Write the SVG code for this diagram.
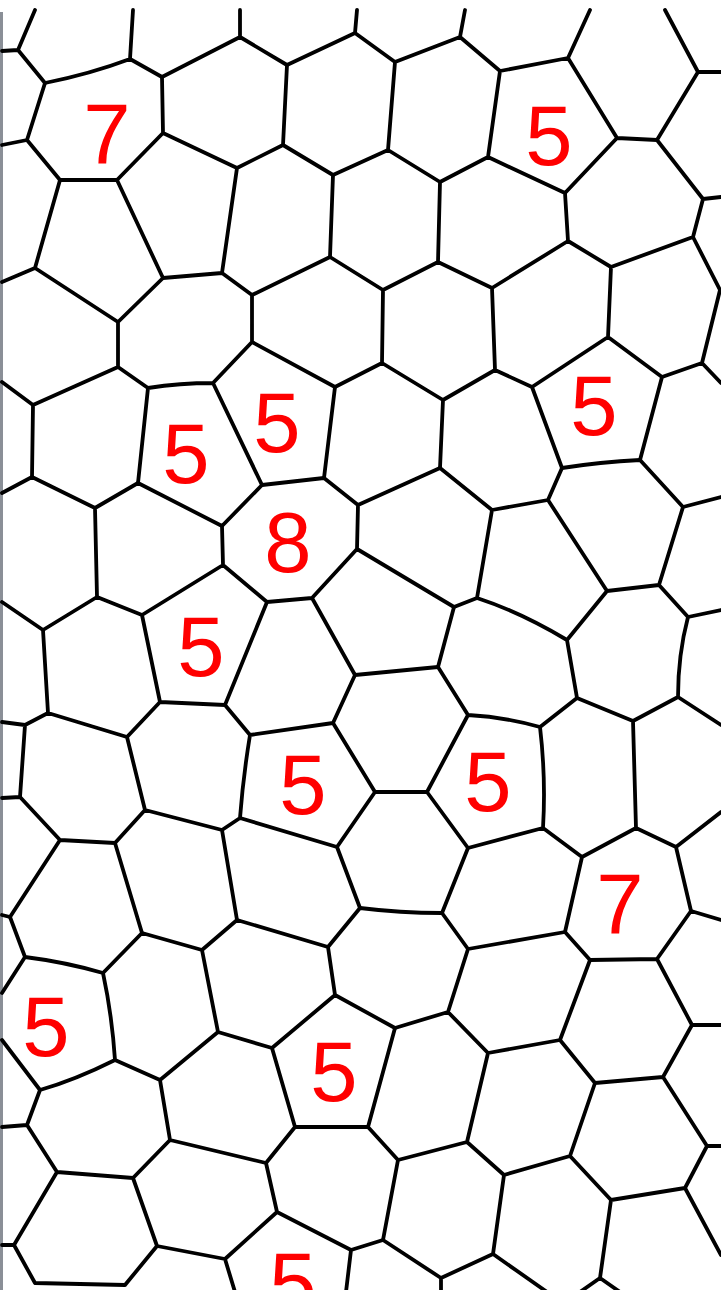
<svg xmlns="http://www.w3.org/2000/svg" width="721" height="1290" viewBox="0 0 721 1290">
<style>
.edge{fill:none;stroke:#000;stroke-width:3.8;stroke-linecap:round;stroke-linejoin:round}
.num{font-family:"Liberation Sans",Arial,sans-serif;font-size:85px;fill:#ff0000;text-anchor:middle}
</style>
<rect width="721" height="1290" fill="#ffffff"/>
<rect x="0" y="12" width="3" height="1278" fill="#8a8f97"/>
<g id="cell-edges" class="edge">
<path d="M35 10L18 50M18 50L2 51M18 50L45 83M45 83Q90 74 130 59M130 59L133 10M130 59L162 77M162 77L240 37M240 37L240 10M240 37L287 65M287 65L355 33M355 33L357 10M355 33L395 62M395 62L460 37M460 37L465 10M460 37L500 71M500 71L568 58M568 58L590 10M665 10L698 72M698 72L721 72M568 58L617 138M617 138L657 140M657 140L698 72M657 140L703 199M703 199L721 197M703 199L693 237M617 138L565 193M500 71L488 157M488 157L565 193M395 62L388 150M388 150L333 175M388 150L440 182M440 182L488 157M565 193L568 241M568 241L611 267M611 267L693 237M693 237L720 290L702 363M440 182L438 262M438 262L383 290M383 290L330 257M438 262L492 288M492 288L568 241M611 267L608 337M702 363L721 383M702 363L662 377M608 337L662 377M662 377L640 460M608 337L532 387M492 288L495 370M495 370L532 387M532 387L562 468M495 370L443 400M443 400L440 468M383 290L382 363M382 363L443 400M382 363L335 387"/>
<path d="M45 83L27 140M27 140L2 145M27 140L60 180M60 180L117 180M117 180L163 133M162 77L163 133M163 133L237 168M287 65L283 145M283 145L237 168M283 145L333 175M237 168L222 273M117 180L163 278M163 278L222 273M60 180L35 268M35 268L2 282M35 268L118 322M118 322L163 278M222 273L252 295M333 175L330 257M330 257L252 295M252 295L252 342M118 322L118 367M118 367L148 388M148 388Q180 383 213 383M213 383L252 342M252 342L335 387M118 367L33 405M33 405L2 382M33 405L32 477M148 388L138 483M213 383L262 485M335 387L324 478"/>
<path d="M32 477L2 493M32 477L95 508M138 483L95 508M138 483L222 526M262 485L324 478M262 485L222 526M324 478L358 505M358 505L440 468M358 505L357 549M357 549L312 598M357 549L454 607M222 526L223 565M223 565L267 602M267 602L312 598M95 508L97 597M223 565L142 615M97 597L142 615M97 597L43 630M43 630L2 602M43 630L48 713M142 615L160 702M267 602L225 705M160 702L225 705M312 598L355 675M355 675L438 667M355 675L333 723M225 705L250 735M250 735L333 723M333 723L375 792M160 702L127 737M48 713L127 737M48 713L25 725M25 725L2 722M25 725L20 797M20 797L2 798M127 737L145 810M250 735Q243 778 240 818M240 818L222 830M145 810L222 830M240 818L337 847M337 847L375 792M20 797L60 840M145 810L115 843M60 840L115 843M60 840L10 917M115 843L142 933M222 830L237 920M337 847L360 908"/>
<path d="M440 468L492 510M562 468Q600 462 640 460M562 468L548 500M492 510L548 500M640 460L683 507M683 507L721 497M548 500L607 591M683 507L659 585M607 591L659 585M659 585L688 617M688 617L721 610M492 510L477 598M454 607L477 598M477 598Q520 612 567 640M607 591L567 640M454 607L438 667M438 667L468 715M468 715Q505 717 540 727M540 727L577 698M567 640L577 698M577 698L633 721M688 617Q678 655 678 697M678 697L633 721M678 697L721 725M633 721L636 828M540 727Q546 778 543 828M468 715L427 792M427 792L375 792M427 792L468 848M468 848L543 828M543 828L582 857M636 828L582 857M636 828L676 847M676 847L721 812M468 848L442 913M582 857L565 932M676 847L691 911"/>
<path d="M10 917L2 915M10 917L25 957M25 957L2 993M25 957Q65 962 103 973M142 933L103 973M142 933L202 950M237 920L202 950M237 920L328 947M328 947L360 908M360 908Q400 913 442 913M328 947L335 995M335 995L395 1028M335 995L272 1048M202 950L218 1032M218 1032L272 1048M103 973Q112 1015 115 1060M115 1060L160 1080M218 1032L160 1080M115 1060Q75 1080 40 1090M40 1090L2 1040M40 1090L27 1125M27 1125L2 1127M272 1048L295 1127M160 1080L170 1140M170 1140L266 1163M295 1127L266 1163M27 1125L57 1172M57 1172L133 1178M170 1140L133 1178M266 1163L277 1212M277 1212L351 1250M133 1178L157 1246M157 1246L225 1259M277 1212L225 1259M57 1172L14 1245M14 1245L2 1245M14 1245L35 1283M35 1283L125 1285M157 1246L125 1285M225 1259L235 1292M351 1250L346 1292M295 1127L368 1127M351 1250L383 1240"/>
<path d="M442 913L468 949M468 949L565 932M565 932L590 960M590 960L657 959M691 911L721 920M691 911L657 959M657 959L692 1025M692 1025L721 1025M590 960L560 1040M468 949L448 1012M448 1012L488 1053M560 1040L488 1053M448 1012L395 1028M560 1040L595 1083M692 1025L663 1077M595 1083L663 1077M663 1077L707 1146M707 1146L721 1146M595 1083L570 1156M488 1053L467 1142M395 1028L368 1127M368 1127L398 1160M467 1142L398 1160M467 1142L504 1175M570 1156L504 1175M570 1156L611 1200M707 1146L685 1188M611 1200L685 1188M685 1188L721 1255M398 1160L383 1240M383 1240L441 1278M441 1278L441 1292M504 1175L493 1254M493 1254L441 1278M493 1254L547 1292M611 1200L600 1278M600 1278L580 1292M600 1278L620 1292"/>
</g>
<g id="labels">
<text class="num" x="107" y="163">7</text>
<text class="num" x="549" y="165">5</text>
<text class="num" x="277" y="452">5</text>
<text class="num" x="186" y="483">5</text>
<text class="num" x="594" y="435">5</text>
<text class="num" x="288" y="572">8</text>
<text class="num" x="201" y="676">5</text>
<text class="num" x="303" y="814">5</text>
<text class="num" x="488" y="811">5</text>
<text class="num" x="620" y="933">7</text>
<text class="num" x="46" y="1056">5</text>
<text class="num" x="334" y="1101">5</text>
<text class="num" x="293" y="1312">5</text>
</g>
</svg>
